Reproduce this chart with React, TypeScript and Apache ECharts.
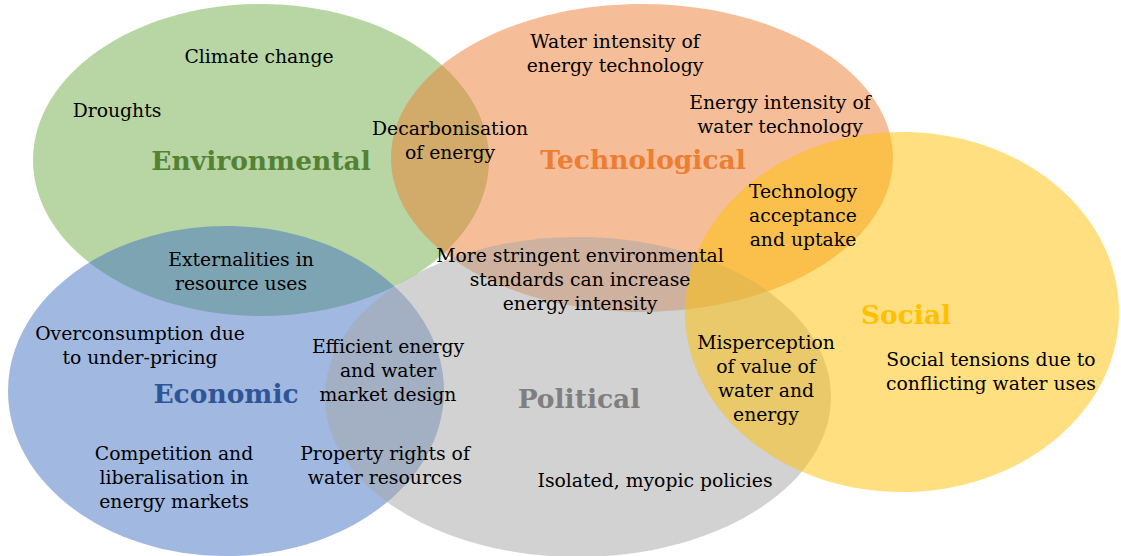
import React, { useEffect, useRef } from "react";
import * as echarts from "echarts";

// Sets (ellipses)
const setNames = ["Environmental", "Technological", "Economic", "Political", "Social"];
const setCx = [261, 642, 226, 578, 902];
const setCy = [160, 158, 391, 397, 312];
const setRx = [228, 251, 218, 253, 217];
const setRy = [156, 154, 165, 160, 180];
const setFill = ["#70ad47", "#ed7d31", "#4472c4", "#a5a5a5", "#ffc000"];
const setTitleColor = ["#548235", "#ed7d31", "#2f5597", "#7f7f7f", "#ffc000"];
const titleX = [261, 643, 226, 579, 906];
const titleY = [160, 159, 393, 398, 314];

// Item labels
const itemTexts = [
  "Climate change",
  "Droughts",
  "Decarbonisation\nof energy",
  "Water intensity of\nenergy technology",
  "Energy intensity of\nwater technology",
  "Technology\nacceptance\nand uptake",
  "Externalities in\nresource uses",
  "More stringent environmental\nstandards can increase\nenergy intensity",
  "Overconsumption due\nto under-pricing",
  "Efficient energy\nand water\nmarket design",
  "Misperception\nof value of\nwater and\nenergy",
  "Social tensions due to\nconflicting water uses",
  "Competition and\nliberalisation in\nenergy markets",
  "Property rights of\nwater resources",
  "Isolated, myopic policies",
];
const itemX = [259, 117, 450, 615, 780, 803, 241, 580, 140, 388, 766, 991, 174, 385, 655];
const itemY = [56, 110, 140, 53, 114, 215, 271, 279, 345, 370, 378, 371, 477, 465, 480];

const FONT = "'DejaVu Serif', 'Liberation Serif', serif";

export default function App() {
  const ref = useRef<HTMLDivElement>(null);
  useEffect(() => {
    if (!ref.current) return;
    const chart = echarts.init(ref.current, undefined, { renderer: "svg" });
    const ellipseData = setNames.map((n, i) => ({
      name: n,
      value: [setCx[i], setCy[i], setRx[i], setRy[i], i],
    }));
    const titleData = setNames.map((n, i) => ({ name: n, value: [titleX[i], titleY[i], i] }));
    const itemData = itemTexts.map((t, i) => ({ name: t, value: [itemX[i], itemY[i], i] }));
    chart.setOption({
      animation: false,
      grid: { left: 0, right: 0, top: 0, bottom: 0 },
      xAxis: { type: "value", min: 0, max: 1121, show: false },
      yAxis: { type: "value", min: 0, max: 556, inverse: true, show: false },
      series: [
        {
          type: "custom",
          silent: true,
          data: ellipseData,
          renderItem: (params: any, api: any) => {
            const i = api.value(4);
            const c = api.coord([api.value(0), api.value(1)]);
            const s = api.size([api.value(2), api.value(3)]);
            return {
              type: "ellipse",
              shape: { cx: c[0], cy: c[1], rx: s[0], ry: s[1] },
              style: { fill: setFill[i], opacity: 0.5 },
            };
          },
        },
        {
          type: "custom",
          silent: true,
          data: itemData,
          renderItem: (params: any, api: any) => {
            const i = api.value(2);
            const c = api.coord([api.value(0), api.value(1)]);
            return {
              type: "text",
              x: c[0],
              y: c[1],
              style: {
                text: itemTexts[i],
                fill: "#000",
                font: `18.8px ${FONT}`,
                lineHeight: 24,
                align: "center",
                verticalAlign: "middle",
              },
            };
          },
        },
        {
          type: "custom",
          silent: true,
          data: titleData,
          renderItem: (params: any, api: any) => {
            const i = api.value(2);
            const c = api.coord([api.value(0), api.value(1)]);
            return {
              type: "text",
              x: c[0],
              y: c[1],
              style: {
                text: setNames[i],
                fill: setTitleColor[i],
                font: `bold 26.5px ${FONT}`,
                align: "center",
                verticalAlign: "middle",
              },
            };
          },
        },
      ],
    });
    return () => chart.dispose();
  }, []);
  return (
    <div
      ref={ref}
      style={{ position: "fixed", left: 0, top: 0, width: 1121, height: 556, background: "#fff" }}
    />
  );
}
